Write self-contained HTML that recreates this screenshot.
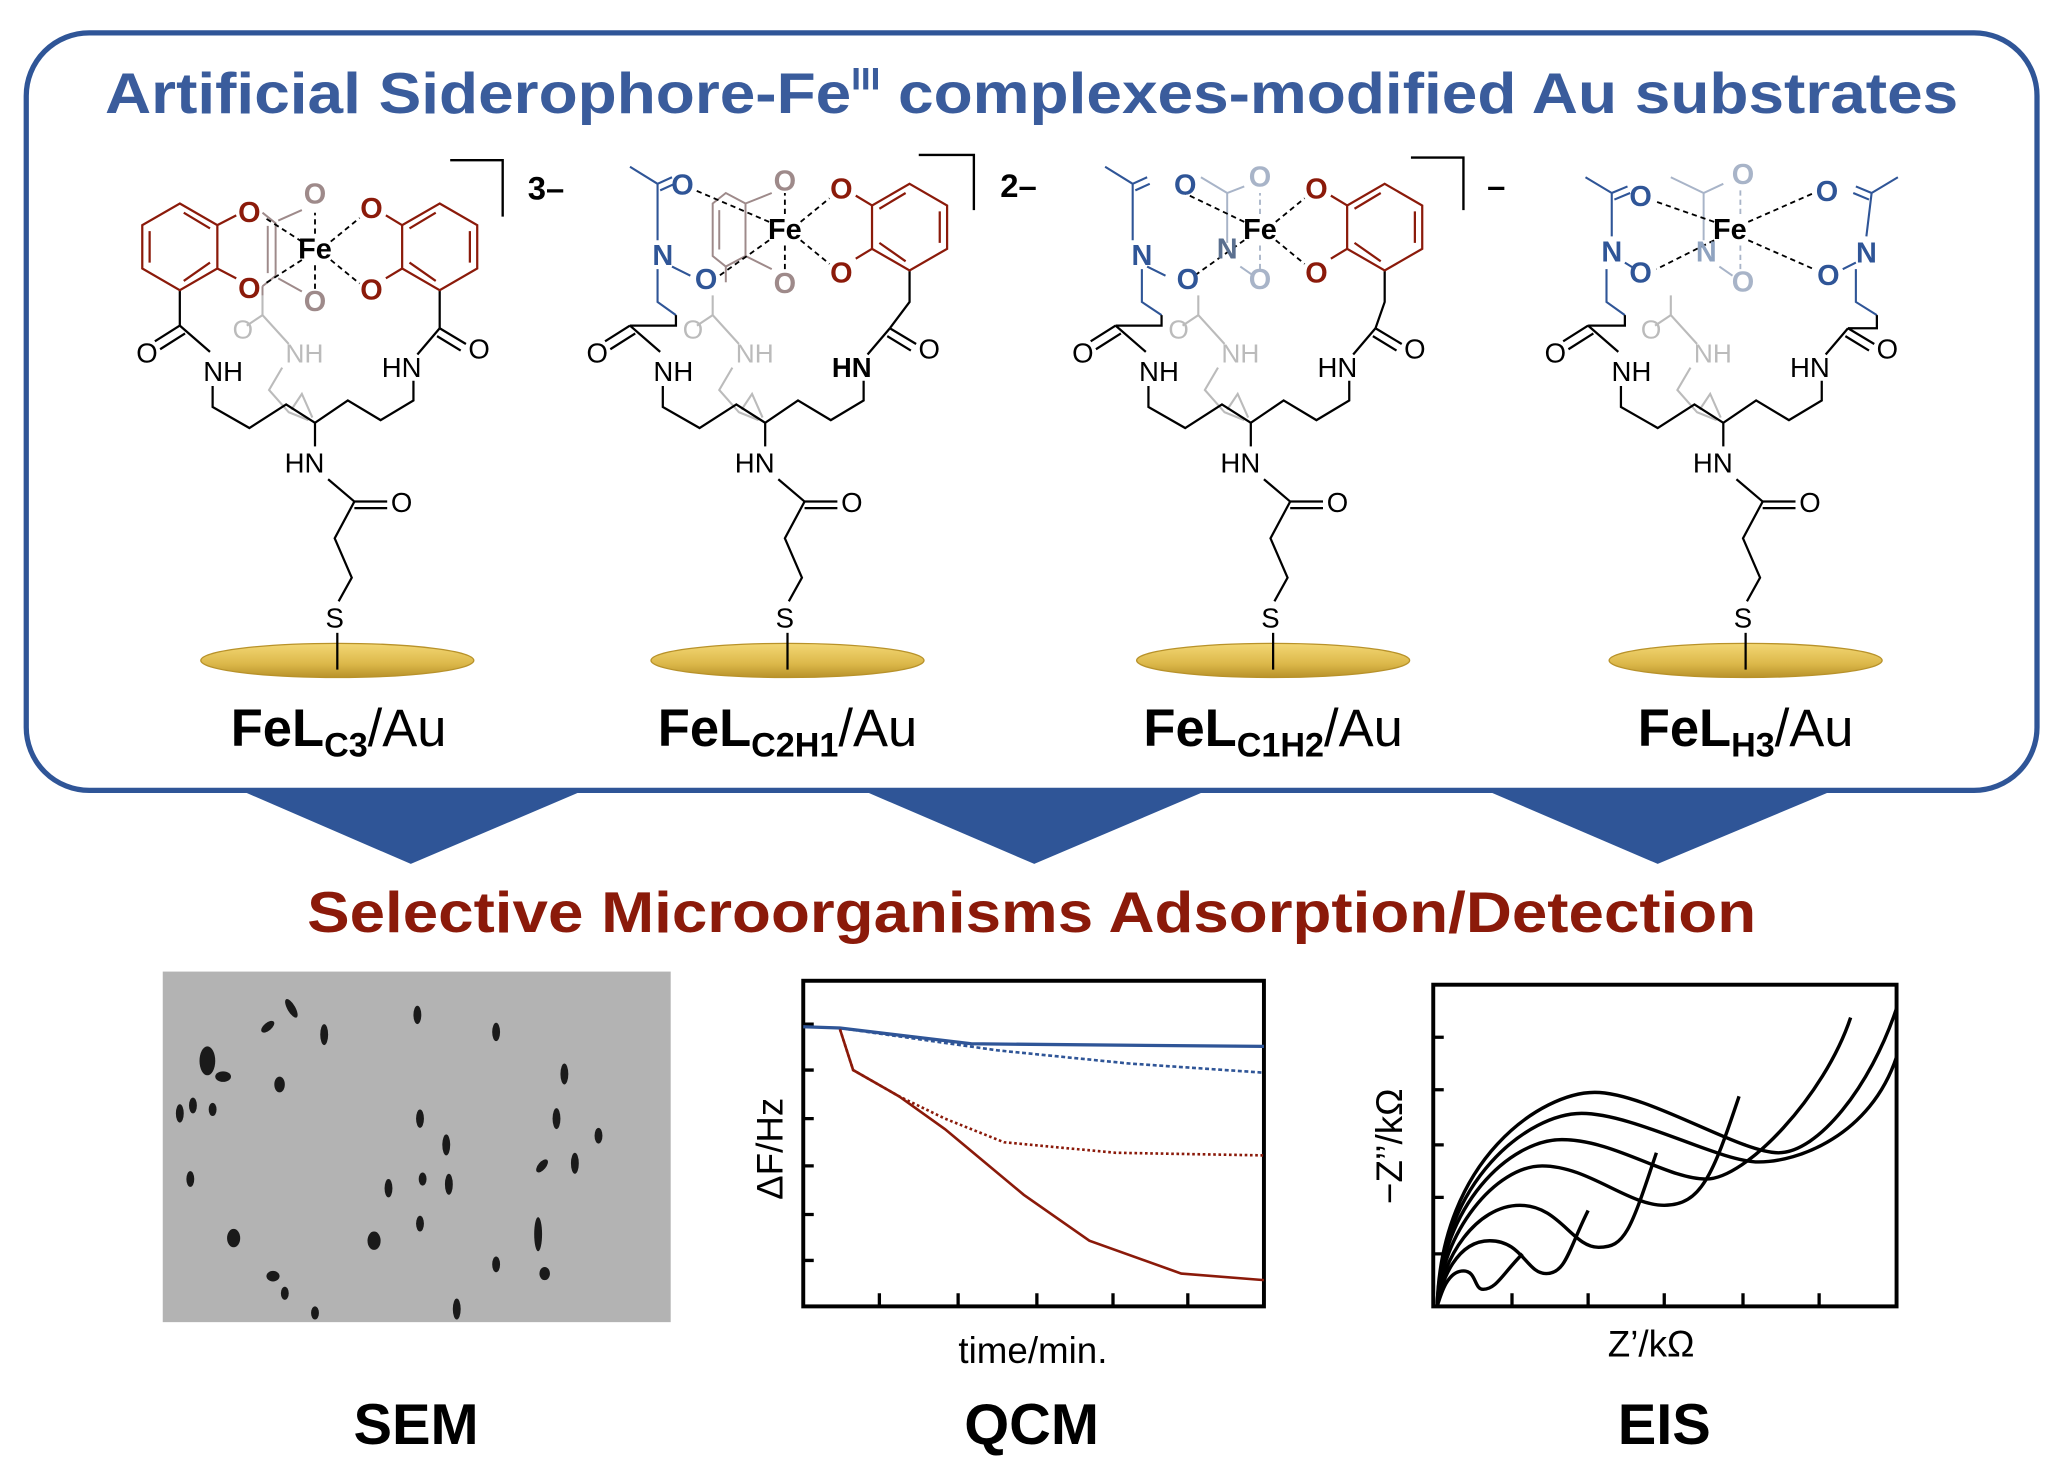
<!DOCTYPE html>
<html><head><meta charset="utf-8"><style>
html,body{margin:0;padding:0;background:#fff}
svg{display:block}
text{font-family:"Liberation Sans",Arial,sans-serif}
</style></head><body>
<svg width="2058" height="1460" viewBox="0 0 1568 1112" preserveAspectRatio="none" xmlns="http://www.w3.org/2000/svg">
<defs>
<linearGradient id="gold" x1="0" y1="0" x2="0" y2="1">
<stop offset="0" stop-color="#f3d774"/><stop offset="0.6" stop-color="#dcb84a"/><stop offset="1" stop-color="#b8922a"/>
</linearGradient>
</defs>
<rect x="20" y="25" width="1532" height="577" rx="48" fill="#fff" stroke="#2f5597" stroke-width="4"/>
<text x="786" y="86" text-anchor="middle" font-size="44" font-weight="bold" fill="#3a5c9c" textLength="1412" lengthAdjust="spacingAndGlyphs">Artificial Siderophore-Fe<tspan font-size="24" dy="-18">III</tspan><tspan dy="18"> complexes-modified Au substrates</tspan></text>

<g stroke="#000" stroke-width="1.8" fill="none">
<path d="M343,122 L383,122 L383,165"/><path d="M700,118 L742,118 L742,160"/><path d="M1075,120 L1115,120 L1115,160"/>
</g>
<text x="416" y="152" text-anchor="middle" font-size="25" font-weight="bold">3–</text>
<text x="776" y="150" text-anchor="middle" font-size="25" font-weight="bold">2–</text>
<text x="1140" y="150" text-anchor="middle" font-size="25" font-weight="bold">–</text>

<g id="lowers">
<g transform="translate(240,0)">
<g stroke="#bbb" stroke-width="1.6" fill="none"><path d="M-40,225 L-40,240 L-20,262"/><path d="M-40,240 L-52,248"/><path d="M-25,280 L-35,297 L-20,314 L-5,320 M-18,312 L-10,300 L-2,318"/></g>
<text x="-55" y="258" font-size="20" fill="#bbb" text-anchor="middle">O</text><text x="-8" y="276" font-size="20" fill="#bbb" text-anchor="middle">NH</text>
<g stroke="#000" stroke-width="1.7" fill="none">
<path d="M-103,248 L-80,268"/><path d="M-103,248 L-122,260 M-99,254 L-118,266"/>
<path d="M-78,294 L-78,310 L-50,326 L-22,308 L0,322 L25,305 L50,320 L75,305 L75,290"/>
<path d="M78,270 L95,250"/><path d="M95,250 L115,262 M93,256 L111,267"/>
<path d="M0,322 L0,340"/><path d="M10,365 L30,382 L55,382 M30,387 L55,387"/><path d="M30,382 L15,410 L28,440 L18,458"/>
</g>
<text x="-128" y="276" font-size="21" text-anchor="middle">O</text><text x="-70" y="290" font-size="21" text-anchor="middle">NH</text>
<text x="125" y="273" font-size="21" text-anchor="middle">O</text><text x="66" y="287" font-size="21" text-anchor="middle">HN</text>
<text x="-8" y="360" font-size="21" text-anchor="middle">HN</text><text x="66" y="390" font-size="21" text-anchor="middle">O</text>
<text x="15" y="478" font-size="21" text-anchor="middle">S</text>
<ellipse cx="17" cy="503" rx="104" ry="13" fill="url(#gold)" stroke="#b8922a" stroke-width="1"/>
<path d="M17,482 L17,510" stroke="#000" stroke-width="1.7"/>
</g>
<g transform="translate(583,0)">
<g stroke="#bbb" stroke-width="1.6" fill="none"><path d="M-40,225 L-40,240 L-20,262"/><path d="M-40,240 L-52,248"/><path d="M-25,280 L-35,297 L-20,314 L-5,320 M-18,312 L-10,300 L-2,318"/></g>
<text x="-55" y="258" font-size="20" fill="#bbb" text-anchor="middle">O</text><text x="-8" y="276" font-size="20" fill="#bbb" text-anchor="middle">NH</text>
<g stroke="#000" stroke-width="1.7" fill="none">
<path d="M-103,248 L-80,268"/><path d="M-103,248 L-122,260 M-99,254 L-118,266"/>
<path d="M-78,294 L-78,310 L-50,326 L-22,308 L0,322 L25,305 L50,320 L75,305 L75,290"/>
<path d="M78,270 L95,250"/><path d="M95,250 L115,262 M93,256 L111,267"/>
<path d="M0,322 L0,340"/><path d="M10,365 L30,382 L55,382 M30,387 L55,387"/><path d="M30,382 L15,410 L28,440 L18,458"/>
</g>
<text x="-128" y="276" font-size="21" text-anchor="middle">O</text><text x="-70" y="290" font-size="21" text-anchor="middle">NH</text>
<text x="125" y="273" font-size="21" text-anchor="middle">O</text><text x="66" y="287" font-size="21" text-anchor="middle" font-weight="bold">HN</text>
<text x="-8" y="360" font-size="21" text-anchor="middle">HN</text><text x="66" y="390" font-size="21" text-anchor="middle">O</text>
<text x="15" y="478" font-size="21" text-anchor="middle">S</text>
<ellipse cx="17" cy="503" rx="104" ry="13" fill="url(#gold)" stroke="#b8922a" stroke-width="1"/>
<path d="M17,482 L17,510" stroke="#000" stroke-width="1.7"/>
</g>
<g transform="translate(953,0)">
<g stroke="#bbb" stroke-width="1.6" fill="none"><path d="M-40,225 L-40,240 L-20,262"/><path d="M-40,240 L-52,248"/><path d="M-25,280 L-35,297 L-20,314 L-5,320 M-18,312 L-10,300 L-2,318"/></g>
<text x="-55" y="258" font-size="20" fill="#bbb" text-anchor="middle">O</text><text x="-8" y="276" font-size="20" fill="#bbb" text-anchor="middle">NH</text>
<g stroke="#000" stroke-width="1.7" fill="none">
<path d="M-103,248 L-80,268"/><path d="M-103,248 L-122,260 M-99,254 L-118,266"/>
<path d="M-78,294 L-78,310 L-50,326 L-22,308 L0,322 L25,305 L50,320 L75,305 L75,290"/>
<path d="M78,270 L95,250"/><path d="M95,250 L115,262 M93,256 L111,267"/>
<path d="M0,322 L0,340"/><path d="M10,365 L30,382 L55,382 M30,387 L55,387"/><path d="M30,382 L15,410 L28,440 L18,458"/>
</g>
<text x="-128" y="276" font-size="21" text-anchor="middle">O</text><text x="-70" y="290" font-size="21" text-anchor="middle">NH</text>
<text x="125" y="273" font-size="21" text-anchor="middle">O</text><text x="66" y="287" font-size="21" text-anchor="middle">HN</text>
<text x="-8" y="360" font-size="21" text-anchor="middle">HN</text><text x="66" y="390" font-size="21" text-anchor="middle">O</text>
<text x="15" y="478" font-size="21" text-anchor="middle">S</text>
<ellipse cx="17" cy="503" rx="104" ry="13" fill="url(#gold)" stroke="#b8922a" stroke-width="1"/>
<path d="M17,482 L17,510" stroke="#000" stroke-width="1.7"/>
</g>
<g transform="translate(1313,0)">
<g stroke="#bbb" stroke-width="1.6" fill="none"><path d="M-40,225 L-40,240 L-20,262"/><path d="M-40,240 L-52,248"/><path d="M-25,280 L-35,297 L-20,314 L-5,320 M-18,312 L-10,300 L-2,318"/></g>
<text x="-55" y="258" font-size="20" fill="#bbb" text-anchor="middle">O</text><text x="-8" y="276" font-size="20" fill="#bbb" text-anchor="middle">NH</text>
<g stroke="#000" stroke-width="1.7" fill="none">
<path d="M-103,248 L-80,268"/><path d="M-103,248 L-122,260 M-99,254 L-118,266"/>
<path d="M-78,294 L-78,310 L-50,326 L-22,308 L0,322 L25,305 L50,320 L75,305 L75,290"/>
<path d="M78,270 L95,250"/><path d="M95,250 L115,262 M93,256 L111,267"/>
<path d="M0,322 L0,340"/><path d="M10,365 L30,382 L55,382 M30,387 L55,387"/><path d="M30,382 L15,410 L28,440 L18,458"/>
</g>
<text x="-128" y="276" font-size="21" text-anchor="middle">O</text><text x="-70" y="290" font-size="21" text-anchor="middle">NH</text>
<text x="125" y="273" font-size="21" text-anchor="middle">O</text><text x="66" y="287" font-size="21" text-anchor="middle">HN</text>
<text x="-8" y="360" font-size="21" text-anchor="middle">HN</text><text x="66" y="390" font-size="21" text-anchor="middle">O</text>
<text x="15" y="478" font-size="21" text-anchor="middle">S</text>
<ellipse cx="17" cy="503" rx="104" ry="13" fill="url(#gold)" stroke="#b8922a" stroke-width="1"/>
<path d="M17,482 L17,510" stroke="#000" stroke-width="1.7"/>
</g>
</g>

<g stroke="#000" stroke-width="1.7" fill="none">
<path d="M137,221 L137,248"/><path d="M335,221 L335,250"/>
<path d="M693,206 L693,230 L678,250"/>
<path d="M1055,206 L1055,230 L1048,250"/>
</g>
<g stroke="#2f5597" stroke-width="1.6" fill="none">
<path d="M501,205 L501,230 L515,240"/><path d="M870,205 L870,230 L885,240"/>
<path d="M1224,205 L1224,230 L1238,240"/><path d="M1414,205 L1414,230 L1430,240"/>
</g>
<g stroke="#000" stroke-width="1.7" fill="none">
<path d="M515,240 L515,248 L480,248"/><path d="M885,240 L885,248 L850,248"/>
<path d="M1238,240 L1238,248 L1210,248"/><path d="M1430,240 L1430,250 L1408,250"/>
</g>

<g transform="translate(240,190)">
<g stroke="#9e8a8a" stroke-width="1.5" fill="none"><path d="M-40,-28 L-30,-20 L-30,20 L-40,28 M-36,-18 L-36,18"/><path d="M-28,-22 L-10,-30 M-28,22 L-10,32"/><path d="M-40,28 L-40,35"/></g>
<g stroke="#8b1a0a" stroke-width="1.7" fill="none">
<polygon points="-103,-35 -74.4,-18.5 -74.4,14.5 -103,31 -131.6,14.5 -131.6,-18.5"/>
<path d="M-126,-14 L-126,10 M-100,-28 L-80,-16 M-80,10 L-100,24"/>
<path d="M-74.4,-18.5 L-60,-26 M-74.4,14.5 L-60,22"/>
<polygon points="95,-35 123.6,-18.5 123.6,14.5 95,31 66.4,14.5 66.4,-18.5"/>
<path d="M118,-14 L118,10 M92,-28 L72,-16 M72,10 L92,24"/>
<path d="M66.4,-18.5 L54,-26 M66.4,14.5 L54,22"/>
</g>
<g stroke="#000" stroke-width="1.4" stroke-dasharray="4,3"><path d="M-10,-6 L-38,-24 M-10,8 L-38,26 M0,-12 L0,-28 M0,12 L0,32 M12,-6 L34,-24 M12,8 L34,26"/></g>
<text x="-50" y="-21" font-size="22" font-weight="bold" fill="#8b1a0a" text-anchor="middle">O</text>
<text x="-50" y="37" font-size="22" font-weight="bold" fill="#8b1a0a" text-anchor="middle">O</text>
<text x="43" y="-24" font-size="22" font-weight="bold" fill="#8b1a0a" text-anchor="middle">O</text>
<text x="43" y="38" font-size="22" font-weight="bold" fill="#8b1a0a" text-anchor="middle">O</text>
<text x="0" y="-35" font-size="22" font-weight="bold" fill="#9e8a8a" text-anchor="middle">O</text>
<text x="0" y="47" font-size="22" font-weight="bold" fill="#9e8a8a" text-anchor="middle">O</text>
<text x="0" y="7" font-size="22" font-weight="bold" text-anchor="middle">Fe</text>
</g>

<g transform="translate(598,175)">
<g stroke="#9e8a8a" stroke-width="1.5" fill="none"><path d="M-55,-20 L-45,-28 L-30,-20 L-30,20 L-45,28 L-55,20 Z M-50,-15 L-50,15"/><path d="M-30,-20 L-10,-28 M-30,20 L-10,30"/><path d="M-45,28 L-45,40"/></g>
<g stroke="#2f5597" stroke-width="1.6" fill="none">
<path d="M-118,-48 L-97,-35 M-97,-35 L-86,-40 M-95,-30 L-84,-35 M-97,-35 L-97,8 M-86,28 L-72,35"/>
</g>
<g stroke="#8b1a0a" stroke-width="1.7" fill="none">
<polygon points="95,-35 123.6,-18.5 123.6,14.5 95,31 66.4,14.5 66.4,-18.5"/>
<path d="M118,-14 L118,10 M92,-28 L72,-16 M72,10 L92,24"/>
<path d="M66.4,-18.5 L54,-26 M66.4,14.5 L54,22"/>
</g>
<g stroke="#000" stroke-width="1.4" stroke-dasharray="4,3"><path d="M-12,-6 L-68,-30 M-12,8 L-50,35 M0,-12 L0,-28 M0,12 L0,32 M12,-6 L34,-24 M12,8 L34,26"/></g>
<text x="-78" y="-27" font-size="22" font-weight="bold" fill="#2f5597" text-anchor="middle">O</text>
<text x="-93" y="27" font-size="22" font-weight="bold" fill="#2f5597" text-anchor="middle">N</text>
<text x="-60" y="45" font-size="22" font-weight="bold" fill="#2f5597" text-anchor="middle">O</text>
<text x="43" y="-24" font-size="22" font-weight="bold" fill="#8b1a0a" text-anchor="middle">O</text>
<text x="43" y="40" font-size="22" font-weight="bold" fill="#8b1a0a" text-anchor="middle">O</text>
<text x="0" y="-30" font-size="22" font-weight="bold" fill="#9e8a8a" text-anchor="middle">O</text>
<text x="0" y="48" font-size="22" font-weight="bold" fill="#9e8a8a" text-anchor="middle">O</text>
<text x="0" y="7" font-size="22" font-weight="bold" text-anchor="middle">Fe</text>
</g>

<g transform="translate(960,175)">
<g stroke="#a8b4c8" stroke-width="1.5" fill="none"><path d="M-45,-40 L-25,-28 L-12,-33 M-25,-28 L-25,10 M-15,28 L-5,35"/></g>
<g stroke="#2f5597" stroke-width="1.6" fill="none">
<path d="M-118,-48 L-97,-35 M-97,-35 L-86,-40 M-95,-30 L-84,-35 M-97,-35 L-97,8 M-86,28 L-72,35"/>
</g>
<g stroke="#8b1a0a" stroke-width="1.7" fill="none">
<polygon points="95,-35 123.6,-18.5 123.6,14.5 95,31 66.4,14.5 66.4,-18.5"/>
<path d="M118,-14 L118,10 M92,-28 L72,-16 M72,10 L92,24"/>
<path d="M66.4,-18.5 L54,-26 M66.4,14.5 L54,22"/>
</g>
<g stroke="#000" stroke-width="1.4" stroke-dasharray="4,3"><path d="M-12,-6 L-62,-30 M-12,8 L-50,35 M12,-6 L34,-24 M12,8 L34,26"/></g>
<g stroke="#a8b4c8" stroke-width="1.4" stroke-dasharray="4,3"><path d="M0,-12 L0,-28 M0,12 L0,30"/></g>
<text x="-57" y="-27" font-size="22" font-weight="bold" fill="#2f5597" text-anchor="middle">O</text>
<text x="-90" y="27" font-size="22" font-weight="bold" fill="#2f5597" text-anchor="middle">N</text>
<text x="-55" y="45" font-size="22" font-weight="bold" fill="#2f5597" text-anchor="middle">O</text>
<text x="-25" y="22" font-size="22" font-weight="bold" fill="#5a6f8f" text-anchor="middle">N</text>
<text x="43" y="-24" font-size="22" font-weight="bold" fill="#8b1a0a" text-anchor="middle">O</text>
<text x="43" y="40" font-size="22" font-weight="bold" fill="#8b1a0a" text-anchor="middle">O</text>
<text x="0" y="-33" font-size="22" font-weight="bold" fill="#a8b4c8" text-anchor="middle">O</text>
<text x="0" y="45" font-size="22" font-weight="bold" fill="#a8b4c8" text-anchor="middle">O</text>
<text x="0" y="7" font-size="22" font-weight="bold" text-anchor="middle">Fe</text>
</g>

<g transform="translate(1318,175)">
<g stroke="#a8b4c8" stroke-width="1.5" fill="none"><path d="M-45,-40 L-20,-28 L-5,-35 M-20,-28 L-20,8 M-8,28 L2,35"/></g>
<g stroke="#2f5597" stroke-width="1.6" fill="none">
<path d="M-110,-40 L-90,-28 M-90,-28 L-78,-33 M-88,-23 L-76,-28 M-90,-28 L-90,5 M-80,25 L-72,30"/>
<path d="M128,-40 L108,-28 M108,-28 L96,-33 M106,-23 L94,-28 M108,-28 L104,5 M96,25 L86,30"/>
</g>
<g stroke="#000" stroke-width="1.4" stroke-dasharray="4,3"><path d="M-12,-6 L-58,-22 M-12,8 L-56,30 M14,-6 L64,-28 M14,8 L64,30"/></g>
<g stroke="#a8b4c8" stroke-width="1.4" stroke-dasharray="4,3"><path d="M8,-12 L8,-30 M8,12 L8,32"/></g>
<text x="-68" y="-18" font-size="22" font-weight="bold" fill="#2f5597" text-anchor="middle">O</text>
<text x="-90" y="24" font-size="22" font-weight="bold" fill="#2f5597" text-anchor="middle">N</text>
<text x="-68" y="40" font-size="22" font-weight="bold" fill="#2f5597" text-anchor="middle">O</text>
<text x="-18" y="24" font-size="22" font-weight="bold" fill="#8fa3c0" text-anchor="middle">N</text>
<text x="74" y="-22" font-size="22" font-weight="bold" fill="#2f5597" text-anchor="middle">O</text>
<text x="104" y="25" font-size="22" font-weight="bold" fill="#2f5597" text-anchor="middle">N</text>
<text x="75" y="42" font-size="22" font-weight="bold" fill="#2f5597" text-anchor="middle">O</text>
<text x="10" y="-35" font-size="22" font-weight="bold" fill="#a8b4c8" text-anchor="middle">O</text>
<text x="10" y="47" font-size="22" font-weight="bold" fill="#a8b4c8" text-anchor="middle">O</text>
<text x="0" y="7" font-size="22" font-weight="bold" text-anchor="middle">Fe</text>
</g>

<text x="258" y="568" text-anchor="middle" font-size="40"><tspan font-weight="bold">FeL</tspan><tspan font-weight="bold" font-size="26" dy="8">C3</tspan><tspan dy="-8">/Au</tspan></text>
<text x="600" y="568" text-anchor="middle" font-size="40"><tspan font-weight="bold">FeL</tspan><tspan font-weight="bold" font-size="26" dy="8">C2H1</tspan><tspan dy="-8">/Au</tspan></text>
<text x="970" y="568" text-anchor="middle" font-size="40"><tspan font-weight="bold">FeL</tspan><tspan font-weight="bold" font-size="26" dy="8">C1H2</tspan><tspan dy="-8">/Au</tspan></text>
<text x="1330" y="568" text-anchor="middle" font-size="40"><tspan font-weight="bold">FeL</tspan><tspan font-weight="bold" font-size="26" dy="8">H3</tspan><tspan dy="-8">/Au</tspan></text>

<g fill="#2f5597">
<polygon points="188,604 440,604 313,658"/>
<polygon points="662,604 915,604 788,658"/>
<polygon points="1137,604 1392,604 1263,658"/>
</g>
<text x="786" y="710" text-anchor="middle" font-size="44" font-weight="bold" fill="#8b1a0a" textLength="1104" lengthAdjust="spacingAndGlyphs">Selective Microorganisms Adsorption/Detection</text>

<rect x="124" y="740" width="387" height="267" fill="#b3b3b3"/>
<g fill="#1a1a1a">
<ellipse cx="222" cy="768" rx="3" ry="8" transform="rotate(-30 222 768)"/>
<ellipse cx="204" cy="782" rx="3" ry="6" transform="rotate(50 204 782)"/>
<ellipse cx="247" cy="788" rx="3" ry="8"/>
<ellipse cx="318" cy="773" rx="3" ry="7"/>
<ellipse cx="378" cy="786" rx="3" ry="7"/>
<ellipse cx="158" cy="808" rx="6" ry="11"/>
<ellipse cx="170" cy="820" rx="6" ry="4"/>
<ellipse cx="213" cy="826" rx="4" ry="6"/>
<ellipse cx="430" cy="818" rx="3" ry="8"/>
<ellipse cx="137" cy="848" rx="3" ry="7"/>
<ellipse cx="147" cy="842" rx="3" ry="6"/>
<ellipse cx="162" cy="845" rx="3" ry="5"/>
<ellipse cx="320" cy="852" rx="3" ry="7"/>
<ellipse cx="340" cy="872" rx="3" ry="8"/>
<ellipse cx="424" cy="852" rx="3" ry="8"/>
<ellipse cx="456" cy="865" rx="3" ry="6"/>
<ellipse cx="413" cy="888" rx="3" ry="6" transform="rotate(40 413 888)"/>
<ellipse cx="438" cy="886" rx="3" ry="8"/>
<ellipse cx="296" cy="905" rx="3" ry="7"/>
<ellipse cx="322" cy="898" rx="3" ry="5"/>
<ellipse cx="342" cy="902" rx="3" ry="8"/>
<ellipse cx="145" cy="898" rx="3" ry="6"/>
<ellipse cx="320" cy="932" rx="3" ry="6"/>
<ellipse cx="410" cy="940" rx="3" ry="13"/>
<ellipse cx="178" cy="943" rx="5" ry="7"/>
<ellipse cx="285" cy="945" rx="5" ry="7"/>
<ellipse cx="378" cy="963" rx="3" ry="6"/>
<ellipse cx="415" cy="970" rx="4" ry="5"/>
<ellipse cx="208" cy="972" rx="5" ry="4"/>
<ellipse cx="217" cy="985" rx="3" ry="5"/>
<ellipse cx="240" cy="1000" rx="3" ry="5"/>
<ellipse cx="348" cy="997" rx="3" ry="8"/>
</g>

<rect x="612" y="747" width="351" height="248" fill="none" stroke="#000" stroke-width="3"/>
<g stroke="#000" stroke-width="2.5"><path d="M612,780 h8 M612,815 h8 M612,852 h8 M612,888 h8 M612,925 h8 M612,960 h8 M670,995 v-10 M730,995 v-10 M790,995 v-10 M848,995 v-10 M905,995 v-10"/></g>
<g fill="none" stroke-width="2">
<path d="M612,782 L640,783 L740,795 L963,797" stroke="#2f5597" stroke-width="2.5"/>
<path d="M640,783 L760,800 L860,810 L963,817" stroke="#2f5597" stroke-dasharray="3,2"/>
<path d="M640,784 L650,815 L685,835 L720,852 L765,870 L850,878 L963,880" stroke="#8b1a0a" stroke-dasharray="2,2"/>
<path d="M640,784 L650,815 L685,835 L720,860 L780,910 L830,945 L900,970 L963,975" stroke="#8b1a0a"/>
</g>
<text x="0" y="0" font-size="28" text-anchor="middle" transform="translate(596,875) rotate(-90)">ΔF/Hz</text>
<text x="787" y="1038" font-size="28" text-anchor="middle">time/min.</text>

<rect x="1092" y="750" width="353" height="245" fill="none" stroke="#000" stroke-width="3"/>
<g stroke="#000" stroke-width="2.5"><path d="M1092,790 h8 M1092,830 h8 M1092,872 h8 M1092,912 h8 M1092,955 h8 M1152,995 v-10 M1210,995 v-10 M1268,995 v-10 M1328,995 v-10 M1386,995 v-10"/></g>
<g fill="none" stroke="#000" stroke-width="2.6">
<path d="M1095,995 C1098,882 1175,832 1215,832 C1255,832 1325,878 1355,878 C1385,878 1425,828 1445,768"/>
<path d="M1095,995 C1098,898 1165,848 1205,848 C1245,848 1310,885 1340,885 C1370,885 1425,865 1445,805"/>
<path d="M1095,995 C1098,918 1150,868 1190,868 C1230,868 1270,898 1300,898 C1330,898 1390,835 1410,775"/>
<path d="M1095,995 C1098,938 1140,888 1175,888 C1210,888 1240,918 1268,918 C1296,918 1305,895 1325,835"/>
<path d="M1095,995 C1098,958 1125,918 1158,918 C1188,918 1198,950 1218,950 C1238,950 1242,938 1262,878"/>
<path d="M1095,995 C1098,975 1110,945 1135,945 C1160,945 1163,970 1178,970 C1193,970 1195,952 1210,922"/>
<path d="M1095,995 C1098,985 1103,968 1115,968 C1125,968 1123,982 1130,982 C1140,982 1145,970 1160,955"/>
</g>
<text x="0" y="0" font-size="28" text-anchor="middle" transform="translate(1068,873) rotate(-90)">−Z’’/kΩ</text>
<text x="1258" y="1033" font-size="28" text-anchor="middle">Z’/kΩ</text>

<text x="317" y="1100" font-size="44" font-weight="bold" text-anchor="middle">SEM</text>
<text x="786" y="1100" font-size="44" font-weight="bold" text-anchor="middle">QCM</text>
<text x="1268" y="1100" font-size="44" font-weight="bold" text-anchor="middle">EIS</text>
</svg>
</body></html>
